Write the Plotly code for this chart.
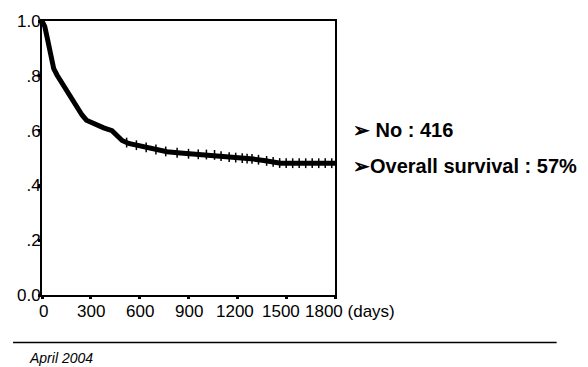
import plotly.graph_objects as go

# Kaplan-Meier estimate
days = [0, 8, 17, 32, 46, 56, 72, 93, 124, 154, 185, 216, 246, 273, 318, 379, 430, 461, 492,
        532, 624, 700, 768, 850, 931, 1054, 1116, 1221, 1300, 1363, 1467, 1800]
survival = [1.0, 0.99, 0.98, 0.939, 0.903, 0.867, 0.826, 0.802, 0.772, 0.740, 0.713, 0.683,
            0.657, 0.638, 0.624, 0.610, 0.600, 0.582, 0.564, 0.553, 0.541, 0.531, 0.523, 0.518,
            0.514, 0.512, 0.505, 0.500, 0.496, 0.491, 0.481, 0.481]
censor_days = [520, 580, 640, 700, 760, 830, 900, 960, 1010, 1060, 1100, 1150, 1190, 1230,
               1260, 1290, 1330, 1380, 1420, 1460, 1500, 1540, 1580, 1620, 1660, 1700, 1740, 1780]
x_ticks = [0, 300, 600, 900, 1200, 1500, 1800]
x_ticktext = ["0", "300", "600", "900", "1200", "1500", "1800 (days)"]
y_ticks = [0.0, 0.2, 0.4, 0.6, 0.8, 1.0]
y_ticktext = ["0.0", ".2", ".4", ".6", ".8", "1.0"]
bullets = ["➢ No : 416", "➢Overall survival : 57%"]
footer = "April 2004"


def surv_at(t):
    # value on the drawn (piecewise linear) curve
    for i in range(1, len(days)):
        if t <= days[i]:
            d0, d1 = days[i - 1], days[i]
            s0, s1 = survival[i - 1], survival[i]
            return s0 + (s1 - s0) * (t - d0) / (d1 - d0)
    return survival[-1]


censor_surv = [surv_at(t) for t in censor_days]

W, H = 588, 367
L, R, T, B = 41.5, 335, 14.5, 295


def px(x):
    return (x - L) / (R - L)


def py(y):
    return (B - y) / (B - T)


fig = go.Figure()
fig.add_trace(go.Scatter(x=days, y=survival, mode="lines", line=dict(color="black", width=5),
                         cliponaxis=False, hoverinfo="skip"))
fig.add_trace(go.Scatter(x=censor_days, y=censor_surv, mode="markers",
                         marker=dict(symbol="line-ns", size=7, line=dict(color="black", width=1.5)),
                         cliponaxis=False, hoverinfo="skip"))

font = "Liberation Sans, Arial, sans-serif"
fig.update_layout(
    width=W, height=H, showlegend=False,
    margin=dict(l=L, r=W - R, t=T, b=H - B, pad=0),
    paper_bgcolor="white", plot_bgcolor="white",
    font=dict(family=font, color="black", size=17),
    xaxis=dict(range=[0, 1800], tickvals=x_ticks, ticktext=[""] * len(x_ticks), ticks="outside",
               ticklen=2, tickwidth=3, tickcolor="black", showgrid=False, zeroline=False,
               showline=True, linecolor="black", linewidth=2, mirror=True),
    yaxis=dict(range=[0, 1.0], tickvals=y_ticks, ticktext=y_ticktext, ticks="outside", ticklen=2,
               tickwidth=3, tickcolor="black", showgrid=False, zeroline=False, showline=True,
               linecolor="black", linewidth=2, mirror=True, tickfont=dict(size=17),
               ticklabelstandoff=-6),
)

# x tick labels as annotations (last two nudged left as in the original)
x_shifts = [1, 0, 0, 0, -2, -5, -32]
annotations = []
for v, txt, sh in zip(x_ticks, x_ticktext, x_shifts):
    last = txt.endswith(")")
    annotations.append(dict(x=v, y=0, xref="x", yref="y", text=txt, showarrow=False,
                            xanchor="left" if last else "center", yanchor="top",
                            xshift=sh, yshift=-5, font=dict(size=17)))
annotations += [
    dict(x=px(351), y=py(126.5), xref="paper", yref="paper", text="<b>" + bullets[0] + "</b>",
         showarrow=False, xanchor="left", yanchor="middle", font=dict(size=20)),
    dict(x=px(351), y=py(162.5), xref="paper", yref="paper", text="<b>" + bullets[1] + "</b>",
         showarrow=False, xanchor="left", yanchor="middle", font=dict(size=20)),
    dict(x=px(26), y=py(359), xref="paper", yref="paper", text="<i>" + footer + "</i>",
         showarrow=False, xanchor="left", yanchor="middle", font=dict(size=14)),
]
fig.update_layout(annotations=annotations)
fig.add_shape(type="line", xref="paper", yref="paper", x0=px(12.5), x1=px(557), y0=py(343.5), y1=py(343.5),
              line=dict(color="black", width=1.5))

fig.write_html("out.html")
